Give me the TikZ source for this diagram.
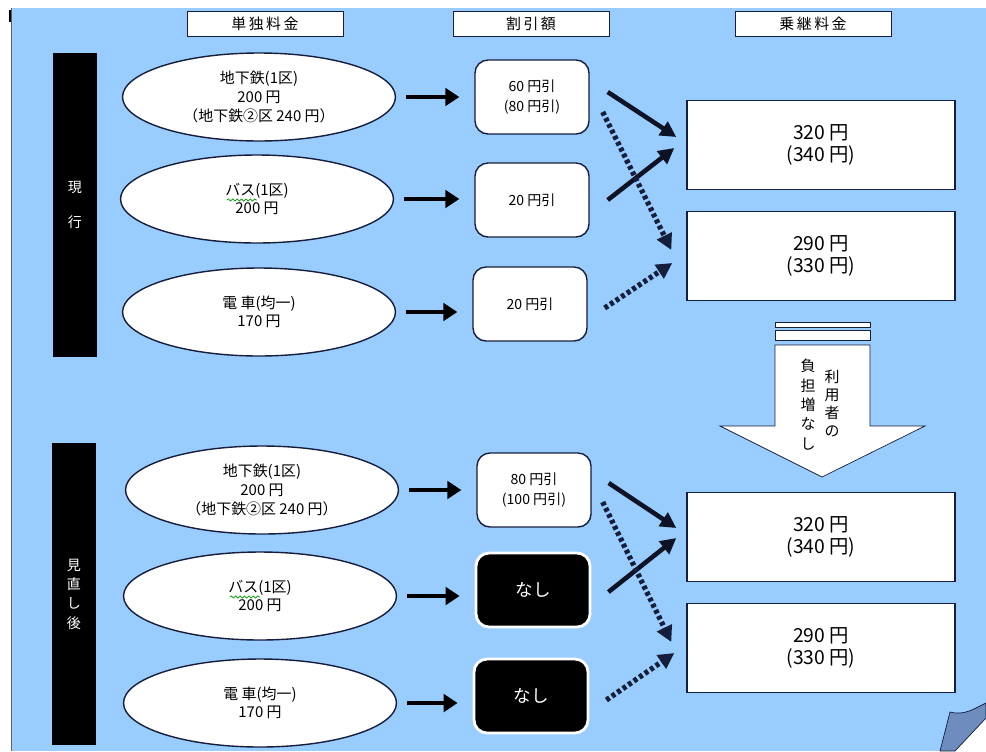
\documentclass[tikz,border=0pt]{standalone}
\usepackage{fontspec}
\setmainfont{Noto Sans CJK JP}
\usetikzlibrary{shapes.geometric,arrows.meta,decorations.pathmorphing}
\definecolor{bgblue}{RGB}{153,204,255}
\definecolor{navy}{RGB}{22,30,60}
\definecolor{curl}{RGB}{110,140,190}
\tikzstyle{heading} = [rectangle, draw=navy, fill=white, minimum width=3.12cm, minimum height=0.5cm, inner sep=0pt, font=\fontsize{8.5}{9}\selectfont]
\tikzstyle{period} = [rectangle, fill=black, text=white, minimum width=0.9cm, inner sep=0pt, align=center, font=\fontsize{8}{11}\selectfont]
\tikzstyle{single} = [ellipse, draw=navy, thick, fill=white, minimum width=5.46cm, minimum height=1.76cm, inner sep=0pt, align=center, font=\fontsize{8.5}{10.6}\selectfont]
\tikzstyle{discount} = [rectangle, rounded corners=0.26cm, draw=navy, thick, fill=white, minimum width=2.28cm, minimum height=1.48cm, inner sep=0pt, align=center, font=\fontsize{8}{11}\selectfont]
\tikzstyle{nodiscount} = [discount, fill=black, draw=white, line width=1.6pt, text=white, font=\fontsize{10}{12}\selectfont]
\tikzstyle{transfer} = [rectangle, draw=navy, thick, fill=white, minimum width=5.36cm, minimum height=1.78cm, inner sep=0pt, align=center, font=\fontsize{11}{12.5}\selectfont]
\tikzstyle{arrow} = [line width=2.8pt, -{Triangle[length=8pt,width=10pt]}, black]
\tikzstyle{solidarrow} = [line width=2.6pt, -{Triangle[length=9pt,width=9pt]}, navy!60!black]
\tikzstyle{dotarrow} = [line width=3pt, dash pattern=on 2.2pt off 1.6pt, -{Triangle[length=9pt,width=9pt]}, navy]
\tikzstyle{squiggle} = [green!60!black, thin, decorate, decoration={snake, amplitude=0.6pt, segment length=2.5pt}]

\begin{document}
\begin{tikzpicture}[x=0.02cm, y=-0.02cm]

\useasboundingbox (0,0) rectangle (986,751);
\fill[white] (0,0) rectangle (986,751);
\fill[bgblue] (11,8) rectangle (986,751);
\draw[navy!70, thin] (11,8) -- (11,751);
\draw[black, line width=1pt] (10,10) -- (10,22);

% column headings
\node (h1) [heading] at (265,24) {単\,独\,料\,金};
\node (h2) [heading] at (531,24) {割\,引\,額};
\node (h3) [heading] at (813,24) {乗\,継\,料\,金};

% current fares
\node (now) [period, minimum height=6.1cm] at (75,205) {現\\[9pt]行};
\node (e1) [single] at (259,97) {地下鉄(1区)\\200 円\\（地下鉄②区\ 240\ 円）};
\node (e2) [single] at (257,199) {バス(1区)\\200 円};
\node (e3) [single] at (259,312) {電\ 車(均一)\\170 円};
\node (d1) [discount] at (532,97) {60 円引\\(80 円引)};
\node (d2) [discount] at (532,200) {20 円引};
\node (d3) [discount] at (530,304) {20 円引};
\node (r1) [transfer] at (821,145) {320 円\\(340 円)};
\node (r2) [transfer] at (821,256) {290 円\\(330 円)};

\draw [arrow, shorten <=0.2cm, shorten >=0.3cm] (e1.east) -- (e1.east -| d1.west);
\draw [arrow, shorten <=0.2cm, shorten >=0.3cm] (e2.east) -- (e2.east -| d2.west);
\draw [arrow, shorten <=0.2cm, shorten >=0.3cm] (e3.east) -- (e3.east -| d3.west);
\draw [solidarrow] ([xshift=0.36cm,yshift=0.1cm]d1.east) -- ([xshift=-0.2cm,yshift=0.16cm]r1.west);
\draw [solidarrow] ([xshift=0.36cm]d2.east) -- ([xshift=-0.24cm,yshift=-0.06cm]r1.west);
\draw [dotarrow] ([xshift=0.26cm,yshift=-0.3cm]d1.east) -- ([xshift=-0.3cm,yshift=0.12cm]r2.west);
\draw [dotarrow] ([xshift=0.34cm,yshift=-0.08cm]d3.east) -- ([xshift=-0.28cm,yshift=-0.14cm]r2.west);

% no extra burden
\fill[white, draw=navy, thin] (775,322) rectangle (870,327);
\fill[white, draw=navy, thin] (775,330) rectangle (870,340);
\draw[navy, thin, fill=white] (775,345) -- (870,345) -- (870,426) -- (925,426) -- (822,477) -- (720,426) -- (775,426) -- cycle;
\node (burden1) [align=center, font=\fontsize{8.5}{10.2}\selectfont, inner sep=0pt, anchor=north] at (832,370) {利\\用\\者\\の};
\node (burden2) [align=center, font=\fontsize{8.5}{11}\selectfont, inner sep=0pt, anchor=north] at (808,359) {負\\担\\増\\な\\し};

% revised fares
\node (after) [period, minimum height=6.04cm] at (74,594) {見\\直\\し\\後};
\node (e4) [single] at (262,490) {地下鉄(1区)\\200 円\\（地下鉄②区\ 240\ 円）};
\node (e5) [single] at (260,596) {バス(1区)\\200 円};
\node (e6) [single] at (260,703) {電\ 車(均一)\\170 円};
\node (d4) [discount] at (534,490) {80 円引\\(100 円引)};
\node (d5) [nodiscount] at (533,590) {なし};
\node (d6) [nodiscount] at (531,696) {なし};
\node (r3) [transfer] at (821,537) {320 円\\(340 円)};
\node (r4) [transfer] at (821,648) {290 円\\(330 円)};

\draw [arrow, shorten <=0.2cm, shorten >=0.3cm] (e4.east) -- (e4.east -| d4.west);
\draw [arrow, shorten <=0.2cm, shorten >=0.3cm] (e5.east) -- (e5.east -| d5.west);
\draw [arrow, shorten <=0.2cm, shorten >=0.3cm] (e6.east) -- (e6.east -| d6.west);
\draw [solidarrow] ([xshift=0.34cm,yshift=0.14cm]d4.east) -- ([xshift=-0.2cm,yshift=0.18cm]r3.west);
\draw [solidarrow] ([xshift=0.34cm,yshift=-0.04cm]d5.east) -- ([xshift=-0.2cm,yshift=-0.02cm]r3.west);
\draw [dotarrow] ([xshift=0.22cm,yshift=-0.24cm]d4.east) -- ([xshift=-0.3cm,yshift=0.12cm]r4.west);
\draw [dotarrow] ([xshift=0.34cm,yshift=-0.08cm]d6.east) -- ([xshift=-0.24cm,yshift=-0.1cm]r4.west);

% spelling marks under the bus names
\draw [squiggle] ([xshift=-0.6cm,yshift=-0.02cm]e2.center) -- ([xshift=0.0cm,yshift=-0.02cm]e2.center);
\draw [squiggle] ([xshift=-0.6cm,yshift=-0.02cm]e5.center) -- ([xshift=0.0cm,yshift=-0.02cm]e5.center);

% page curl
\fill[white] (955,751) -- (986,718) -- (986,751) -- cycle;
\draw[navy, fill=curl] (940,751) -- (950,712) .. controls (965,716) and (975,708) .. (986,703) -- (986,718) -- (955,751) -- cycle;

\end{tikzpicture}
\end{document}
